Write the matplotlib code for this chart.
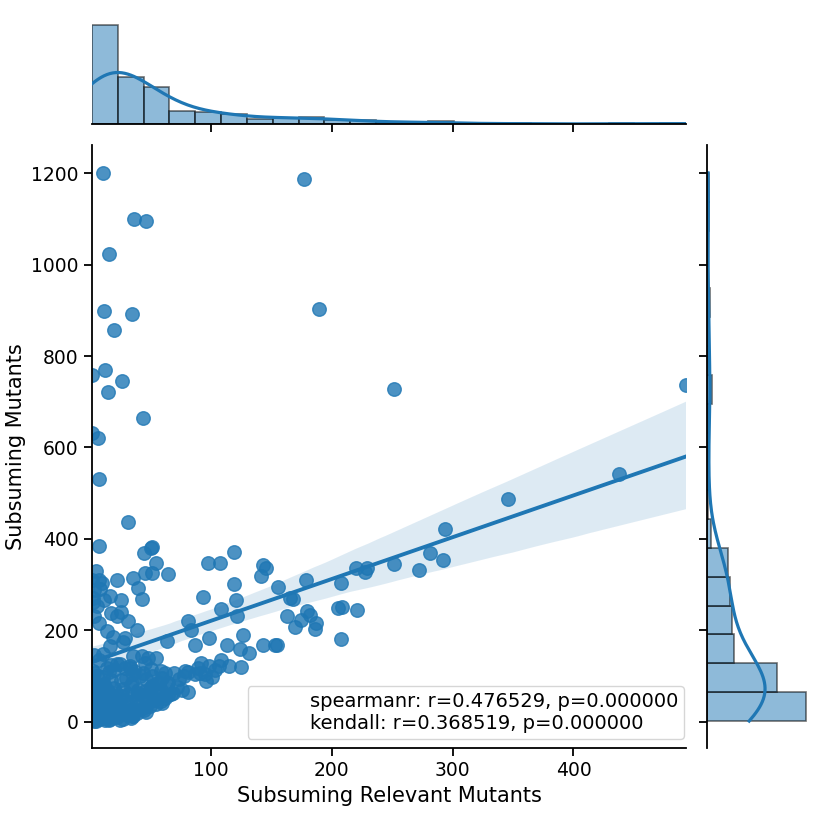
import numpy as np
import pandas as pd
import matplotlib
matplotlib.use("Agg")
import matplotlib.pyplot as plt
import seaborn as sns
from matplotlib.lines import Line2D

# ---- data: (Subsuming Relevant Mutants, Subsuming Mutants) ----
outlier_x = [11, 177, 37, 47, 16, 12, 35, 20, 190, 2, 13, 27, 15, 44, 2, 7, 252, 493, 438, 346,
             32, 8, 8, 52, 51, 45, 55, 46, 52, 65, 98, 108, 2, 8, 10, 23, 36]
outlier_y = [1201, 1188, 1100, 1096, 1024, 899, 891, 857, 904, 758, 769, 746, 721, 664, 632, 620, 727, 737, 541, 487,
             436, 530, 385, 383, 379, 369, 348, 325, 326, 323, 348, 348, 310, 310, 303, 310, 314]

mid_x = [294, 281, 292, 272, 252, 229, 228, 220, 208, 209, 205, 221, 208, 179, 156, 166, 168, 163, 180, 182,
         175, 187, 186, 170, 143, 146, 142, 119, 119, 121, 122, 127, 124, 132, 143, 153, 155, 114, 125,
         40, 43, 17, 26, 12, 4, 3, 6, 4, 18, 23, 32, 39, 19, 29, 28, 17, 4, 11, 8, 36, 43, 48, 55,
         23, 33, 46, 64, 81, 84, 94, 87, 99, 109, 92, 99, 109, 115, 81, 47, 36,
         8, 14, 26, 3, 9, 5]
mid_y = [421, 369, 353, 332, 345, 337, 327, 337, 304, 251, 248, 245, 181, 310, 294, 271, 268, 232, 241, 234,
         223, 216, 203, 207, 343, 336, 319, 370, 301, 267, 232, 190, 159, 151, 168, 168, 167, 168, 119,
         292, 268, 274, 267, 266, 288, 270, 252, 230, 238, 232, 219, 201, 186, 183, 175, 166, 146, 147, 135, 143, 143, 139, 139,
         125, 121, 128, 176, 219, 201, 273, 168, 183, 246, 128, 121, 135, 122, 64, 20, 11,
         215, 198, 240, 262, 290, 330]

edge_x = [95, 101, 87, 81, 79, 70, 74, 65, 69, 62, 59, 51, 52, 57, 25, 33, 44, 51, 59, 62, 4, 4]
edge_y = [103, 98, 103, 108, 110, 106, 92, 85, 63, 59, 70, 63, 77, 85, 125, 117, 106, 114, 110, 106, 106, 85]

cluster_x = [2, 3, 4, 5, 6, 7, 8, 9, 10, 11, 12, 13, 14, 15, 16, 17, 18, 19, 20, 21,
             2, 3, 4, 6, 7, 9, 10, 12, 13, 15, 16, 17, 19, 21, 22, 22, 3, 5, 13, 15,
             17, 19, 21, 4, 6, 8, 10, 14, 16, 11, 18, 20, 7, 12,
             5, 8, 11, 14, 18, 20, 2, 4, 6, 9, 11, 14, 16, 18, 3, 12, 20,
             23, 24, 25, 26, 27, 29, 31, 32, 33, 34, 36, 38, 39, 41, 43, 44, 28, 30, 33, 40, 35,
             28, 30, 35, 37, 40, 42, 26, 34, 36, 29,
             45, 48, 50, 53, 55, 57, 59, 62, 65, 47, 60,
             46, 47, 51, 52, 56, 60, 64,
             67, 72, 76, 78, 96, 104, 91, 107, 90]
cluster_y = [3, 8, 15, 2, 22, 11, 5, 30, 18, 7, 26, 40, 12, 35, 4, 48, 21, 55, 9, 33,
             45, 60, 28, 38, 52, 14, 44, 58, 3, 19, 62, 27, 41, 16, 63, 24, 33, 50, 24, 57,
             6, 13, 47, 1, 9, 36, 59, 47, 31, 53, 39, 28, 62, 10,
             72, 66, 80, 70, 90, 74, 95, 84, 100, 76, 98, 118, 108, 124, 110, 82, 112,
             10, 38, 4, 55, 20, 30, 15, 60, 42, 8, 26, 50, 18, 36, 57, 30, 6, 47, 23, 62, 12,
             72, 95, 84, 110, 68, 100, 90, 77, 104, 118,
             25, 40, 33, 48, 38, 62, 45, 52, 58, 56, 40,
             66, 92, 75, 100, 85, 95, 80,
             60, 75, 68, 100, 88, 112, 106, 122, 118]

spearman_text = "spearmanr: r=0.476529, p=0.000000"
kendall_text = "kendall: r=0.368519, p=0.000000"
x_label = "Subsuming Relevant Mutants"
y_label = "Subsuming Mutants"

x = np.array(outlier_x + mid_x + edge_x + cluster_x, dtype=float)
y = np.array(outlier_y + mid_y + edge_y + cluster_y, dtype=float)
df = pd.DataFrame({x_label: x, y_label: y})

plt.rcParams['font.family'] = ['DejaVu Sans']

blue = "#1f77b4"
W = 830.0
fig = plt.figure(figsize=(8.3, 8.3), dpi=100)
ax = fig.add_axes([92 / W, (W - 748) / W, 594 / W, 603 / W])
axx = fig.add_axes([92 / W, (W - 124) / W, 594 / W, 119 / W], sharex=ax)
axy = fig.add_axes([707 / W, (W - 748) / W, 119 / W, 603 / W], sharey=ax)

sns.regplot(data=df, x=x_label, y=y_label, ax=ax, color=blue, seed=0,
            scatter_kws=dict(s=95, alpha=0.8, linewidths=1.0),
            line_kws=dict(lw=2.8))
ax.set_xlim(x.min(), x.max())
ax.set_ylim(-58, 1262)
ax.set_xticks([100, 200, 300, 400])
ax.set_yticks([0, 200, 400, 600, 800, 1000, 1200])
ax.set_xlabel(x_label, fontsize=15)
ax.set_ylabel(y_label, fontsize=15)
ax.tick_params(labelsize=13.5, width=1.3, length=6)
for s in ["left", "bottom"]:
    ax.spines[s].set_linewidth(1.3)
sns.despine(ax=ax)

handles = [Line2D([], [], linestyle="none")]
ax.legend(handles, [spearman_text + "\n" + kendall_text], loc="lower right", fontsize=14,
          bbox_to_anchor=(0.9966, 0.015), borderaxespad=0.0, borderpad=0.3,
          handlelength=2.1)

edge = (0.0, 0.0, 0.0, 0.55)
sns.histplot(x=x, ax=axx, bins=23, kde=True, color=blue, linewidth=1.2, edgecolor=edge,
             line_kws=dict(lw=2.3))
sns.histplot(y=y, ax=axy, bins=19, kde=True, color=blue, linewidth=1.2, edgecolor=edge,
             line_kws=dict(lw=2.3))
cx, _ = np.histogram(x, bins=23)
cy, _ = np.histogram(y, bins=19)
axx.set_ylim(0, cx.max() * 1.2)
axy.set_xlim(0, cy.max() * 1.2)

axx.tick_params(labelbottom=False, left=False, labelleft=False, width=1.3, length=6)
axy.tick_params(labelleft=False, bottom=False, labelbottom=False, width=1.3, length=6)
axx.set_xlabel("")
axx.set_ylabel("")
axy.set_xlabel("")
axy.set_ylabel("")
sns.despine(ax=axx, left=True)
sns.despine(ax=axy, bottom=True)
axx.spines["bottom"].set_linewidth(1.3)
axy.spines["left"].set_linewidth(1.3)

fig.savefig("out.png", dpi=100)
